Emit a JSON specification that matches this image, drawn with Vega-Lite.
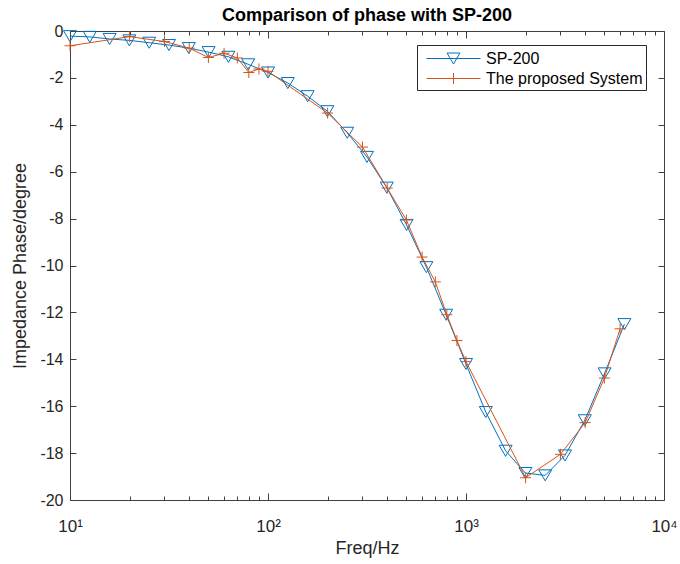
{
  "$schema": "https://vega.github.io/schema/vega-lite/v6.json",
  "autosize": "none",
  "width": 594,
  "height": 469,
  "padding": {"left": 70, "top": 31, "right": 16, "bottom": 64},
  "background": "white",
  "title": {"text": "Comparison of phase with SP-200", "fontSize": 18, "fontWeight": "bold", "font": "Liberation Sans", "color": "#000000", "offset": -2, "anchor": "middle"},
  "config": {
    "view": {"stroke": null},
    "axis": {"grid": false, "domainColor": "#404040", "tickColor": "#404040", "labelColor": "#262626", "titleColor": "#262626", "labelFont": "Liberation Sans", "titleFont": "Liberation Sans", "labelFontSize": 16, "titleFontSize": 18, "titleFontWeight": "normal", "domainWidth": 1, "tickWidth": 1},
    "legend": {"orient": "none", "legendX": 347, "legendY": 14, "padding": 3, "strokeColor": "#262626", "fillColor": "white", "labelFont": "Liberation Sans", "labelFontSize": 16, "labelColor": "#000000", "symbolSize": 400, "rowPadding": 1, "labelOffset": 22, "symbolOffset": 23, "labelLimit": 400}
  },
  "datasets": {
    "sp200": [
      {"freq": 10, "phase": -0.22, "series": "SP-200"},
      {"freq": 12.59, "phase": -0.25, "series": "SP-200"},
      {"freq": 15.85, "phase": -0.34, "series": "SP-200"},
      {"freq": 19.95, "phase": -0.4, "series": "SP-200"},
      {"freq": 25.12, "phase": -0.5, "series": "SP-200"},
      {"freq": 31.62, "phase": -0.6, "series": "SP-200"},
      {"freq": 39.81, "phase": -0.73, "series": "SP-200"},
      {"freq": 50.12, "phase": -0.9, "series": "SP-200"},
      {"freq": 63.1, "phase": -1.1, "series": "SP-200"},
      {"freq": 79.43, "phase": -1.42, "series": "SP-200"},
      {"freq": 100, "phase": -1.77, "series": "SP-200"},
      {"freq": 125.9, "phase": -2.22, "series": "SP-200"},
      {"freq": 158.5, "phase": -2.78, "series": "SP-200"},
      {"freq": 199.5, "phase": -3.42, "series": "SP-200"},
      {"freq": 251.2, "phase": -4.34, "series": "SP-200"},
      {"freq": 316.2, "phase": -5.37, "series": "SP-200"},
      {"freq": 398.1, "phase": -6.68, "series": "SP-200"},
      {"freq": 501.2, "phase": -8.27, "series": "SP-200"},
      {"freq": 631, "phase": -10.07, "series": "SP-200"},
      {"freq": 794.3, "phase": -12.1, "series": "SP-200"},
      {"freq": 1000, "phase": -14.2, "series": "SP-200"},
      {"freq": 1259, "phase": -16.25, "series": "SP-200"},
      {"freq": 1585, "phase": -17.9, "series": "SP-200"},
      {"freq": 1995, "phase": -18.85, "series": "SP-200"},
      {"freq": 2512, "phase": -18.95, "series": "SP-200"},
      {"freq": 3162, "phase": -18.1, "series": "SP-200"},
      {"freq": 3981, "phase": -16.6, "series": "SP-200"},
      {"freq": 5012, "phase": -14.6, "series": "SP-200"},
      {"freq": 6310, "phase": -12.5, "series": "SP-200"}
    ],
    "proposed": [
      {"freq": 10, "phase": -0.63, "series": "The proposed System"},
      {"freq": 20, "phase": -0.24, "series": "The proposed System"},
      {"freq": 30, "phase": -0.45, "series": "The proposed System"},
      {"freq": 40, "phase": -0.73, "series": "The proposed System"},
      {"freq": 50, "phase": -1.13, "series": "The proposed System"},
      {"freq": 60, "phase": -0.95, "series": "The proposed System"},
      {"freq": 70, "phase": -1.15, "series": "The proposed System"},
      {"freq": 80, "phase": -1.77, "series": "The proposed System"},
      {"freq": 90, "phase": -1.62, "series": "The proposed System"},
      {"freq": 100, "phase": -1.72, "series": "The proposed System"},
      {"freq": 200, "phase": -3.5, "series": "The proposed System"},
      {"freq": 300, "phase": -4.95, "series": "The proposed System"},
      {"freq": 400, "phase": -6.7, "series": "The proposed System"},
      {"freq": 500, "phase": -8.06, "series": "The proposed System"},
      {"freq": 600, "phase": -9.64, "series": "The proposed System"},
      {"freq": 700, "phase": -10.7, "series": "The proposed System"},
      {"freq": 800, "phase": -12.1, "series": "The proposed System"},
      {"freq": 900, "phase": -13.2, "series": "The proposed System"},
      {"freq": 1000, "phase": -14.1, "series": "The proposed System"},
      {"freq": 2000, "phase": -19.05, "series": "The proposed System"},
      {"freq": 3000, "phase": -18.05, "series": "The proposed System"},
      {"freq": 4000, "phase": -16.7, "series": "The proposed System"},
      {"freq": 5000, "phase": -14.8, "series": "The proposed System"},
      {"freq": 6000, "phase": -12.7, "series": "The proposed System"}
    ]
  },
  "layer": [
    {
      "data": {"name": "sp200"},
      "mark": {"type": "line", "strokeWidth": 1},
      "encoding": {
        "x": {"field": "freq", "type": "quantitative", "scale": {"type": "log", "domain": [10, 10000], "nice": false},
          "axis": {"orient": "bottom", "values": [10, 100, 1000, 10000], "tickSize": -7, "labelPadding": 25, "labelFontSize": 17, "labelExpr": "datum.value == 10 ? '10¹' : datum.value == 100 ? '10²' : datum.value == 1000 ? '10³' : '10⁴'", "labelFlush": false, "title": "Freq/Hz", "titlePadding": 5}},
        "y": {"field": "phase", "type": "quantitative", "scale": {"domain": [-20, 0], "nice": false, "zero": false},
          "axis": {"orient": "left", "values": [-20, -18, -16, -14, -12, -10, -8, -6, -4, -2, 0], "tickSize": -6, "labelPadding": 13, "labelExpr": "toString(datum.value)", "title": "Impedance Phase/degree", "titlePadding": 10}},
        "color": {"field": "series", "type": "nominal", "scale": {"domain": ["SP-200", "The proposed System"], "range": ["#0072BD", "#D95319"]},
          "legend": {"title": null, "labelExpr": "datum.label + '\u00a0\u00a0\u00a0'", "encode": {"symbols": {"update": {
            "shape": {"signal": "datum.value === 'SP-200' ? 'M-2.7,0H2.7M-0.65,-0.55L0.65,-0.55L0,0.55Z' : 'M-2.7,0H2.7M0,-0.55V0.55M-0.55,0H0.55'"},
            "fill": {"value": "transparent"},
            "stroke": {"signal": "datum.value === 'SP-200' ? '#0072BD' : '#D95319'"},
            "strokeWidth": {"value": 1},
            "opacity": {"value": 1}}}}}}
      }
    },
    {
      "data": {"name": "sp200"},
      "mark": {"type": "point", "shape": "M-1,-0.85L1,-0.85L0,0.85Z", "filled": false, "size": 169, "strokeWidth": 1, "opacity": 1},
      "encoding": {
        "x": {"field": "freq", "type": "quantitative",
          "axis": {"orient": "bottom", "values": [20, 30, 40, 50, 60, 70, 80, 90, 200, 300, 400, 500, 600, 700, 800, 900, 2000, 3000, 4000, 5000, 6000, 7000, 8000, 9000], "tickSize": -4, "labels": false, "domain": false, "title": null}},
        "y": {"field": "phase", "type": "quantitative",
          "axis": {"orient": "right", "values": [-20, -18, -16, -14, -12, -10, -8, -6, -4, -2, 0], "tickSize": -6, "labels": false, "title": null}},
        "color": {"field": "series", "type": "nominal"}
      }
    },
    {
      "data": {"name": "proposed"},
      "mark": {"type": "line", "strokeWidth": 1},
      "encoding": {
        "x": {"field": "freq", "type": "quantitative",
          "axis": {"orient": "top", "values": [10, 100, 1000, 10000], "tickSize": -7, "labels": false, "title": null}},
        "y": {"field": "phase", "type": "quantitative", "axis": null},
        "color": {"field": "series", "type": "nominal"}
      }
    },
    {
      "data": {"name": "proposed"},
      "mark": {"type": "point", "shape": "M-1,0H1M0,-1V1", "filled": false, "size": 121, "strokeWidth": 1, "opacity": 1},
      "encoding": {
        "x": {"field": "freq", "type": "quantitative",
          "axis": {"orient": "top", "values": [20, 30, 40, 50, 60, 70, 80, 90, 200, 300, 400, 500, 600, 700, 800, 900, 2000, 3000, 4000, 5000, 6000, 7000, 8000, 9000], "tickSize": -4, "labels": false, "domain": false, "title": null}},
        "y": {"field": "phase", "type": "quantitative", "axis": null},
        "color": {"field": "series", "type": "nominal"}
      }
    }
  ],
  "resolve": {"axis": {"x": "independent", "y": "independent"}}
}
